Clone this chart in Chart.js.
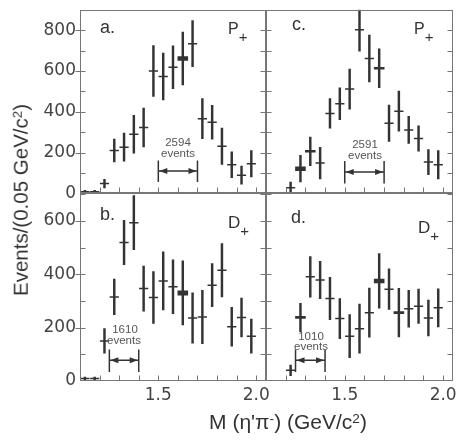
<!DOCTYPE html>
<html>
<head>
<meta charset="utf-8">
<script src="https://cdn.jsdelivr.net/npm/chart.js@4.4.0/dist/chart.umd.min.js"></script>
<style>
body { margin: 0; background: #fff; }
#wrap { position: relative; width: 469px; height: 441px; overflow: hidden; font-family: "Liberation Sans", Arial, sans-serif; color: #333; }
#wrap canvas { position: absolute; left: 0; top: 0; }
.t { position: absolute; white-space: nowrap; line-height: 1; }
.c { transform: translateX(-50%); }
.s { position: relative; top: 7.5px; font-size: 15px; }
.sup { position: relative; top: -0.45em; font-size: 0.65em; }
.ev { font-size: 11.5px; color: #555; }
</style>
</head>
<body>
<div id="wrap">
  <canvas id="panelA" width="469" height="441"></canvas>
  <canvas id="panelB" width="469" height="441"></canvas>
  <canvas id="panelC" width="469" height="441"></canvas>
  <canvas id="panelD" width="469" height="441"></canvas>

  <div class="t" style="left:100px;top:18px;font-size:18px">a.</div>
  <div class="t" style="left:292px;top:15px;font-size:18px">c.</div>
  <div class="t" style="left:100px;top:205px;font-size:18px">b.</div>
  <div class="t" style="left:291px;top:208px;font-size:18px">d.</div>

  <div class="t" style="left:228px;top:21px;font-size:16px">P<span class="s">+</span></div>
  <div class="t" style="left:414px;top:21px;font-size:16px">P<span class="s">+</span></div>
  <div class="t" style="left:228px;top:214px;font-size:17px">D<span class="s">+</span></div>
  <div class="t" style="left:418px;top:219px;font-size:17px">D<span class="s">+</span></div>

  <div class="t c ev" style="left:178px;top:137px">2594</div>
  <div class="t c ev" style="left:178px;top:148px">events</div>
  <div class="t c ev" style="left:365px;top:138.5px">2591</div>
  <div class="t c ev" style="left:365px;top:149.5px">events</div>
  <div class="t c ev" style="left:125px;top:323.5px">1610</div>
  <div class="t c ev" style="left:124px;top:335px">events</div>
  <div class="t c ev" style="left:311px;top:330.5px">1010</div>
  <div class="t c ev" style="left:311px;top:341px">events</div>

  <div class="t" style="left:21px;top:200px;font-size:20.5px;transform:translate(-50%,-50%) rotate(-90deg)">Events/(0.05 GeV/c<span class="sup">2</span>)</div>
  <div class="t" style="left:288px;top:421px;font-size:21px;transform:translate(-50%,-50%)">M (η'π<span class="sup">-</span>) (GeV/c<span class="sup">2</span>)</div>
</div>
<script>
// bin centres, 0.05 GeV/c^2 wide
const massBins = [1.125, 1.175, 1.225, 1.275, 1.325, 1.375, 1.425, 1.475, 1.525,
                  1.575, 1.625, 1.675, 1.725, 1.775, 1.825, 1.875, 1.925, 1.975];

// a. P+ (left top)
const aEvents = [8, 8, 48, 210, 226, 290, 323, 600, 573, 618, 661, 734, 366, 348, 231, 140, 89, 145];
const aErrors = [6, 6, 21, 56, 69, 93, 95, 125, 115, 105, 130, 113, 98, 83, 89, 63, 44, 65];
// c. P+ (right top)
const cEvents = [1, 1, 27, 121, 206, 148, 392, 439, 511, 802, 661, 613, 344, 403, 311, 269, 153, 140];
const cErrors = [0, 0, 28, 65, 70, 77, 73, 78, 98, 105, 115, 95, 89, 98, 66, 62, 62, 69];
// b. D+ (left bottom)
const bEvents = [9, 9, 150, 315, 519, 593, 346, 313, 375, 353, 330, 236, 240, 359, 415, 203, 238, 168];
const bErrors = [6, 6, 46, 67, 83, 101, 84, 97, 109, 101, 120, 94, 100, 81, 100, 73, 73, 64];
// d. D+ (right bottom)
const dEvents = [1, 1, 40, 238, 390, 378, 309, 234, 168, 196, 256, 375, 344, 256, 271, 280, 236, 274];
const dErrors = [0, 0, 20, 53, 76, 70, 79, 75, 81, 92, 92, 102, 76, 91, 69, 64, 67, 71];

// axis ticks
const xTickVals = [1.2, 1.3, 1.4, 1.5, 1.6, 1.7, 1.8, 1.9, 2.0];
const xTickLabels = [1.5, 2.0];
const yTicksP = [100, 200, 300, 400, 500, 600, 700, 800];
const yLabelsP = [0, 200, 400, 600, 800];
const yTicksD = [100, 200, 300, 400, 500, 600, 700];
const yLabelsD = [0, 200, 400, 600];

const ink = '#333';

const framePlugin = {
  id: 'frame',
  afterDatasetsDraw(chart, args, o) {
    const { ctx, chartArea: a, scales: { x, y } } = chart;
    const L = Math.round(a.left) + 0.5, R = Math.round(a.right) - 0.5;
    const T = Math.round(a.top) + 0.5, B = Math.round(a.bottom) - 0.5;
    ctx.save();
    ctx.strokeStyle = '#777';
    ctx.lineWidth = 1;
    ctx.strokeRect(L, T, R - L, B - T);
    ctx.beginPath();
    xTickVals.forEach(v => {
      const px = Math.round(x.getPixelForValue(v)) + 0.5;
      ctx.moveTo(px, B); ctx.lineTo(px, B - 5);
    });
    o.yTicks.forEach(v => {
      const py = Math.round(y.getPixelForValue(v)) + 0.5;
      ctx.moveTo(L, py); ctx.lineTo(L + 5, py);
      ctx.moveTo(R, py); ctx.lineTo(R - 5, py);
      if (o.outer && o.yLabels.includes(v)) { ctx.moveTo(L - 5, py); ctx.lineTo(L, py); }
    });
    ctx.stroke();

    // "N events" window arrow
    const ar = o.arrow;
    const x0 = x.getPixelForValue(ar.from), x1 = x.getPixelForValue(ar.to);
    const yy = y.getPixelForValue(ar.at), yl = y.getPixelForValue(ar.lo), yh = y.getPixelForValue(ar.hi);
    ctx.strokeStyle = ink;
    ctx.fillStyle = ink;
    ctx.lineWidth = 1.5;
    ctx.beginPath();
    ctx.moveTo(x0, yy); ctx.lineTo(x1, yy);
    ctx.moveTo(x0, yl); ctx.lineTo(x0, yh);
    ctx.moveTo(x1, yl); ctx.lineTo(x1, yh);
    ctx.stroke();
    ctx.beginPath();
    ctx.moveTo(x0 + 1, yy); ctx.lineTo(x0 + 9, yy - 3); ctx.lineTo(x0 + 9, yy + 3); ctx.closePath();
    ctx.moveTo(x1 - 1, yy); ctx.lineTo(x1 - 9, yy - 3); ctx.lineTo(x1 - 9, yy + 3); ctx.closePath();
    ctx.fill();
    ctx.restore();
  }
};

function noPad(s) {
  s.paddingTop = 0; s.paddingBottom = 0; s.paddingLeft = 0; s.paddingRight = 0;
}

function makePanel(id, cfg) {
  const heavy = cfg.heavy || {};
  return new Chart(document.getElementById(id), {
    type: 'bar',
    data: {
      datasets: [
        {
          type: 'bar',
          data: massBins.map((m, i) => ({ x: m, y: [cfg.events[i] - cfg.errors[i], cfg.events[i] + cfg.errors[i]] })),
          backgroundColor: ink,
          barThickness: 1.8,
          grouped: false
        },
        {
          type: 'scatter',
          data: massBins.map((m, i) => ({ x: m, y: cfg.events[i] })),
          pointStyle: 'line',
          pointRadius: massBins.map((m, i) => heavy[i] ? 5.3 : 4.6),
          pointBorderWidth: massBins.map((m, i) => heavy[i] || 1.5),
          pointBorderColor: ink,
          borderColor: ink
        }
      ]
    },
    options: {
      responsive: false,
      animation: false,
      events: [],
      layout: { padding: cfg.pad },
      plugins: {
        legend: { display: false },
        tooltip: { enabled: false },
        frame: { yTicks: cfg.yTicks, yLabels: cfg.yLabels, outer: cfg.left, arrow: cfg.arrow }
      },
      scales: {
        x: {
          type: 'linear', min: 1.1, max: 2.05, offset: false,
          display: cfg.bottom,
          grid: { display: false, drawTicks: false },
          border: { display: false },
          afterFit: s => { s.height = cfg.bottom ? 28 : 0; noPad(s); },
          afterBuildTicks: s => { s.ticks = xTickLabels.map(v => ({ value: v })); },
          ticks: {
            autoSkip: false, maxRotation: 0, padding: 4, color: '#444',
            font: { family: 'DejaVu Sans', size: 17 },
            callback: v => Number(v).toFixed(1)
          }
        },
        y: {
          min: 0, max: cfg.ymax,
          display: cfg.left,
          grid: { display: false, drawTicks: false },
          border: { display: false },
          afterFit: s => { s.width = cfg.left ? 80 : 0; noPad(s); },
          afterBuildTicks: s => { s.ticks = cfg.yLabels.map(v => ({ value: v })); },
          ticks: {
            autoSkip: false, padding: 4, color: '#444',
            font: { family: 'DejaVu Sans', size: 17 },
            callback: v => String(v)
          }
        }
      }
    },
    plugins: [framePlugin]
  });
}

makePanel('panelA', {
  events: aEvents, errors: aErrors, ymax: 900, yTicks: yTicksP, yLabels: yLabelsP,
  left: true, bottom: false, heavy: { 10: 4.5 },
  pad: { left: 0, top: 7, right: 203, bottom: 247.7 },
  arrow: { from: 1.5, to: 1.7, at: 109, lo: 55, hi: 161 }
});
makePanel('panelC', {
  events: cEvents, errors: cErrors, ymax: 900, yTicks: yTicksP, yLabels: yLabelsP,
  left: false, bottom: false, heavy: { 3: 4.5, 4: 2.6, 11: 2.6 },
  pad: { left: 266, top: 7, right: 16, bottom: 247.7 },
  arrow: { from: 1.5, to: 1.7, at: 104, lo: 48, hi: 158 }
});
makePanel('panelB', {
  events: bEvents, errors: bErrors, ymax: 703, yTicks: yTicksD, yLabels: yLabelsD,
  left: true, bottom: true, heavy: { 10: 5 },
  pad: { left: 0, top: 193.3, right: 203, bottom: 32 },
  arrow: { from: 1.25, to: 1.4, at: 78, lo: 34, hi: 118 }
});
makePanel('panelD', {
  events: dEvents, errors: dErrors, ymax: 703, yTicks: yTicksD, yLabels: yLabelsD,
  left: false, bottom: true, heavy: { 3: 2.8, 11: 4.5, 13: 2.8 },
  pad: { left: 266, top: 193.3, right: 16, bottom: 32 },
  arrow: { from: 1.25, to: 1.4, at: 78, lo: 34, hi: 118 }
});
</script>
</body>
</html>
